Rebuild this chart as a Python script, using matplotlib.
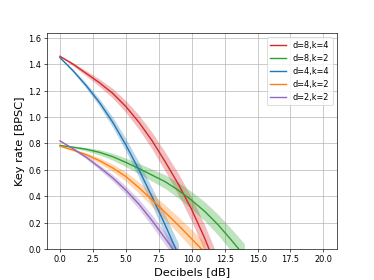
import matplotlib
matplotlib.use("Agg")
import matplotlib.pyplot as plt
import numpy as np

# Data
labels = ["d=8,k=4", "d=8,k=2", "d=4,k=4", "d=4,k=2", "d=2,k=2"]
colors = ["tab:red", "tab:green", "tab:blue", "tab:orange", "tab:purple"]

x_red = [0, 1, 2, 3, 4, 5, 6, 7, 8, 9, 10, 11, 12]
y_red = [1.46, 1.40, 1.33, 1.26, 1.18, 1.08, 0.96, 0.82, 0.66, 0.49, 0.30, 0.08, -0.17]
e_red = [0.004, 0.012, 0.020, 0.028, 0.036, 0.045, 0.054, 0.063, 0.072, 0.081, 0.090, 0.099, 0.108]

x_green = [0, 1, 2, 3, 4, 5, 6, 7, 8, 9, 10, 11, 12, 13, 14]
y_green = [0.785, 0.772, 0.756, 0.733, 0.700, 0.657, 0.610, 0.560, 0.510, 0.445, 0.370, 0.285, 0.185, 0.070, -0.050]
e_green = [0.003, 0.007, 0.013, 0.020, 0.026, 0.033, 0.039, 0.046, 0.052, 0.059, 0.065, 0.072, 0.078, 0.085, 0.091]

x_blue = [0, 1, 2, 3, 4, 5, 6, 7, 8, 9]
y_blue = [1.45, 1.35, 1.237, 1.11, 0.962, 0.79, 0.60, 0.395, 0.18, -0.045]
e_blue = [0.004, 0.011, 0.019, 0.028, 0.038, 0.048, 0.058, 0.067, 0.077, 0.086]

x_orange = [0, 1, 2, 3, 4, 5, 6, 7, 8, 9, 10, 11]
y_orange = [0.78, 0.75, 0.715, 0.67, 0.615, 0.55, 0.465, 0.372, 0.277, 0.18, 0.078, -0.025]
e_orange = [0.003, 0.007, 0.014, 0.021, 0.028, 0.035, 0.042, 0.049, 0.056, 0.063, 0.070, 0.077]

x_purple = [0, 1, 2, 3, 4, 5, 6, 7, 8, 9]
y_purple = [0.82, 0.76, 0.695, 0.62, 0.54, 0.447, 0.34, 0.215, 0.08, -0.06]
e_purple = [0.003, 0.007, 0.013, 0.019, 0.025, 0.031, 0.037, 0.043, 0.049, 0.055]

xticks = [0.0, 2.5, 5.0, 7.5, 10.0, 12.5, 15.0, 17.5, 20.0]
yticks = [0.0, 0.2, 0.4, 0.6, 0.8, 1.0, 1.2, 1.4, 1.6]

series = [
    (x_red, y_red, e_red),
    (x_green, y_green, e_green),
    (x_blue, y_blue, e_blue),
    (x_orange, y_orange, e_orange),
    (x_purple, y_purple, e_purple),
]

fig, ax = plt.subplots(figsize=(6.4, 4.8), dpi=374 / 6.4)

for (xs, ys, es), lab, col in zip(series, labels, colors):
    xs = np.array(xs, float)
    ys = np.array(ys, float)
    es = np.array(es, float)
    ax.plot(xs, ys, color=col, label=lab, lw=1.7)
    ax.fill_between(xs, ys - es, ys + es, color=col, alpha=0.3, lw=0)

ax.set_xlim(-1.0, 21.0)
ax.set_ylim(0.0, 1.635)
ax.set_xticks(xticks)
ax.set_xticklabels([f"{t:.1f}" for t in xticks])
ax.set_yticks(yticks)
ax.set_yticklabels([f"{t:.1f}" for t in yticks])
ax.grid(True, color="#b0b0b0", lw=0.8)
ax.set_axisbelow(True)
ax.set_xlabel("Decibels [dB]", fontsize=14)
ax.set_ylabel("Key rate [BPSC]", fontsize=14)
ax.legend(loc="upper right")

fig.savefig("out.png", dpi=374 / 6.4)
